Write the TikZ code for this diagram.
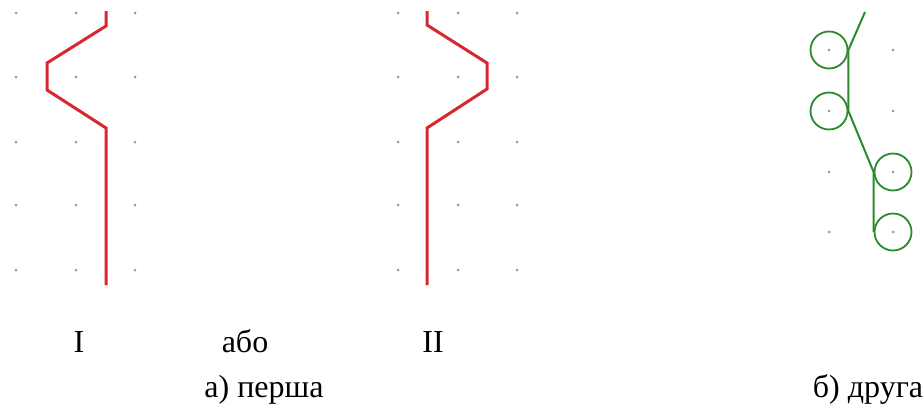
\documentclass[tikz,border=0pt]{standalone}
\usepackage{fontspec}
\setmainfont{Liberation Serif}
\usetikzlibrary{calc}
\definecolor{wirered}{HTML}{D7282F}
\definecolor{wiregreen}{HTML}{2A8A2E}
\definecolor{gridgray}{HTML}{9A9A9A}

\begin{document}
\begin{tikzpicture}[
    x=0.5pt,y=-0.5pt,
    dot/.style={circle,fill=gridgray,inner sep=0pt,minimum size=1.5pt},
    redwire/.style={wirered,line width=1.5pt,line join=miter},
    greenwire/.style={wiregreen,line width=1pt},
    ring/.style={circle,draw=wiregreen,line width=0.9pt,
                 minimum size=18.5pt,inner sep=0pt},
    caption/.style={font=\fontsize{16}{19}\selectfont,anchor=base}
  ]
    \useasboundingbox (0,0) rectangle (924,412);

    % grid dots
    \foreach \x in {16,76,135,398,458,517}
      \foreach \y in {13,77,142,205,270}
        \node[dot] at (\x,\y) {};
    \foreach \x in {829,893}
      \foreach \y in {50,111,172,232}
        \node[dot] at (\x,\y) {};

    % variant I
    \coordinate (a0) at (106,11);
    \coordinate (a1) at (106,26);
    \coordinate (a2) at (47,63);
    \coordinate (a3) at (47,90);
    \coordinate (a4) at (106,128);
    \coordinate (a5) at (106,285);
    \draw[redwire] (a0) -- (a1) -- (a2) -- (a3) -- (a4) -- (a5);

    % variant II
    \coordinate (b0) at (427,11);
    \coordinate (b1) at (427,25);
    \coordinate (b2) at (487,63);
    \coordinate (b3) at (487,89);
    \coordinate (b4) at (427,128);
    \coordinate (b5) at (427,285);
    \draw[redwire] (b0) -- (b1) -- (b2) -- (b3) -- (b4) -- (b5);

    % second way
    \node[ring] (r1) at (829,50) {};
    \node[ring] (r2) at (829,111) {};
    \node[ring] (r3) at (893,172) {};
    \node[ring] (r4) at (893,232) {};
    \coordinate (g0) at (865,12);
    \draw[greenwire] (g0) -- (r1.east) -- (r2.east) -- (r3.west) -- (r4.west);

    \node[caption] (one) at (79,352) {I};
    \node[caption] (or) at (245,352) {або};
    \node[caption] (two) at (433,352) {II};
    \node[caption] (capa) at (264,397) {а) перша};
    \node[caption] (capb) at (868,397) {б) друга};
  \end{tikzpicture}
\end{document}
